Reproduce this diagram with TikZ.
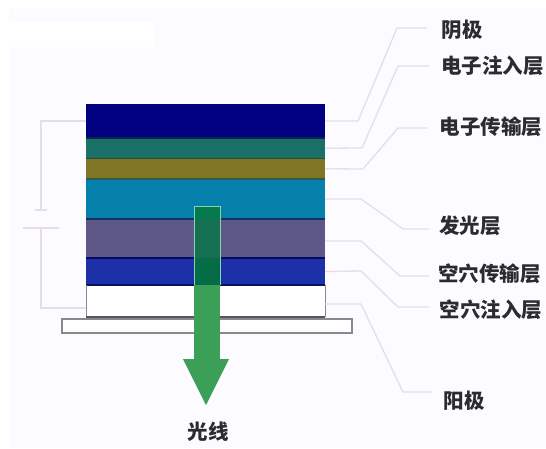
\documentclass[tikz,border=0pt]{standalone}
\usepackage{fontspec}
\newfontfamily\cjk{Noto Sans CJK SC}
\definecolor{bgc}{HTML}{FCFBFF}
\definecolor{wirec}{HTML}{E8DCEB}
\definecolor{edgec}{HTML}{55555F}
\definecolor{inkc}{HTML}{2B2B30}
\definecolor{greenc}{HTML}{3C9F58}
\definecolor{cnavy}{RGB}{0,0,128}
\definecolor{cteal}{RGB}{27,112,104}
\definecolor{colive}{RGB}{128,118,38}
\definecolor{cblue}{RGB}{4,128,170}
\definecolor{cpurple}{RGB}{94,88,136}
\definecolor{croyal}{RGB}{28,48,168}
\definecolor{sa}{RGB}{6,40,80}
\definecolor{sb}{RGB}{40,80,50}
\definecolor{sc}{RGB}{50,90,80}
\definecolor{sd}{RGB}{20,50,100}
\definecolor{se}{RGB}{10,10,100}
\definecolor{sf}{RGB}{10,20,90}
\definecolor{ga}{RGB}{6,122,76}
\definecolor{gb}{RGB}{20,112,80}
\definecolor{gc}{RGB}{6,108,72}
\definecolor{gedge}{RGB}{130,215,170}
\tikzset{
  x=1pt,y=-1pt,
  layer/.style={minimum width=239pt,inner sep=0pt,outer sep=0pt,anchor=north west,draw=none},
  sep/.style={line width=1.2pt},
  wire/.style={draw=wirec,line width=1.3pt},
  lbl/.style={font=\cjk\bfseries\fontsize{20.5pt}{20.5pt}\selectfont,text=inkc,inner sep=0pt},
}
\begin{document}
\begin{tikzpicture}
\useasboundingbox (0,0) rectangle (546,448);
\fill[bgc] (0,0) rectangle (546,448);
\fill[white] (0,0) rectangle (546,9);
\fill[white] (0,0) rectangle (9,448);
\fill[white] (9,22) rectangle (155,47);
% layers
\node[layer,fill=cnavy,minimum height=34pt] (cathode) at (86,104) {};
\node[layer,fill=cteal,minimum height=20.5pt] (einj) at (86,138) {};
\node[layer,fill=colive,minimum height=20.5pt] (etrans) at (86,158.5) {};
\node[layer,fill=cblue,minimum height=40pt] (emit) at (86,179) {};
\node[layer,fill=cpurple,minimum height=39pt] (htrans) at (86,219) {};
\node[layer,fill=croyal,minimum height=27pt] (hinj) at (86,258) {};
\node[layer,fill=white,minimum height=32pt] (anode) at (86,285) {};
\node[minimum width=290pt,minimum height=14pt,inner sep=0pt,outer sep=0pt,anchor=north west,draw=edgec!70,fill=white,line width=1.2pt] (glass) at (62,319) {};
% layer separations
\draw[sep,draw=sa] (cathode.south west) -- (cathode.south east);
\draw[sep,draw=sb] (einj.south west) -- (einj.south east);
\draw[sep,draw=sc] (etrans.south west) -- (etrans.south east);
\draw[sep,draw=sd] (emit.south west) -- (emit.south east);
\draw[sep,draw=se] (htrans.south west) -- (htrans.south east);
\draw[sep,draw=sf] (hinj.south west) -- (hinj.south east);
\draw[draw=edgec!70,line width=1pt] (anode.south west) -- (anode.north west) (anode.north east) -- (anode.south east);
\draw[draw=edgec,line width=1.2pt] (anode.south west) -- (anode.south east);
% light arrow
\fill[greenc] (194,206) rectangle (220,360);
\fill[greenc] (183,359) -- (229,359) -- (206,405) -- cycle;
\fill[ga] (194,206) rectangle (220,219);
\fill[gb] (194,219) rectangle (220,258);
\fill[gc] (194,258) rectangle (220,285);
\draw[gedge,line width=.8pt] (194,285) -- (194,206) -- (220,206) -- (220,285);
% battery
\coordinate (platea1) at (35,210);
\coordinate (platea2) at (47,210);
\coordinate (plateb1) at (23,228);
\coordinate (plateb2) at (59,228);
\coordinate (tapa) at (41,210);
\coordinate (tapb) at (41,228);
\draw[wire] (platea1) -- (platea2);
\draw[wire] (plateb1) -- (plateb2);
\draw[wire] (cathode.west) -- (41,121) -- (tapa);
\draw[wire] (anode.west |- 0,308) -- (41,308) -- (tapb);
% labels
\node[lbl] (l1) at (462,30) {阴极};
\node[lbl] (l2) at (492.5,66) {电子注入层};
\node[lbl] (l3) at (491,127) {电子传输层};
\node[lbl] (l4) at (470,226) {发光层};
\node[lbl] (l5) at (489.5,274) {空穴传输层};
\node[lbl] (l6) at (491,310) {空穴注入层};
\node[lbl] (l7) at (464,401) {阳极};
\node[lbl] (l8) at (208,432) {光线};
% leaders
\coordinate (e1) at (427,28);
\coordinate (e2) at (429,66);
\coordinate (e3) at (428,128);
\coordinate (e4) at (429,229);
\coordinate (e5) at (429,276);
\coordinate (e6) at (429,307);
\coordinate (e7) at (432,392);
\draw[wire] (cathode.east) -- (358,121) -- (397,28) -- (e1);
\draw[wire] (einj.east) -- (362,148) -- (398,66) -- (e2);
\draw[wire] (etrans.east) -- (363,169) -- (398,128) -- (e3);
\draw[wire] (emit.east) -- (361,199) -- (403,229) -- (e4);
\draw[wire] (htrans.east |- 0,241) -- (361,241) -- (400,276) -- (e5);
\draw[wire] (hinj.east) -- (361,271) -- (398,307) -- (e6);
\draw[wire] (anode.east |- 0,304) -- (361,304) -- (403,392) -- (e7);
\end{tikzpicture}
\end{document}
